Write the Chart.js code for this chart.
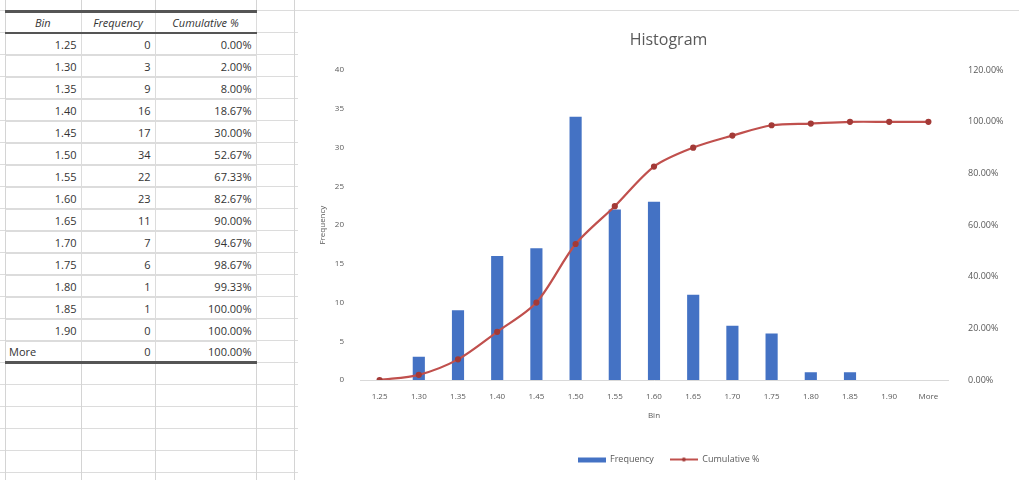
<!DOCTYPE html>
<html lang="en">
<head>
    <meta charset="UTF-8">
    <title>Histogram</title>
    <script src="https://cdn.jsdelivr.net/npm/chart.js"></script>
    <style>
        body { margin: 0; width: 1019px; height: 480px; overflow: hidden; background: #fff;
               font-family: "Open Sans", sans-serif; position: relative; }
        .grid { position: absolute; left: 0; top: 0; width: 1019px; height: 480px;
                background-image:
                    linear-gradient(to bottom, #dcdcdc 1px, transparent 1px);
                background-size: 100% 22px; background-position: 0 10px; }
        .vline { position: absolute; top: 0; height: 480px; width: 1px; background: #d4d4d4; }
        table { position: absolute; left: 5px; top: 10px; border-collapse: collapse;
                font-size: 11px; color: #333; }
        td, th { height: 21px; padding: 0 4px; border-bottom: 1px solid #dcdcdc;
                 border-right: 1px solid #dcdcdc; text-align: right; white-space: nowrap; }
        th { font-weight: normal; font-style: italic; text-align: center;
             border-top: 3px solid #555; border-bottom: 2px solid #555; height: 19px; }
        tr.last td { border-bottom: 3px solid #555; height: 19px; }
        td.l { text-align: left; }
        #wrap { position: absolute; left: 298px; top: 12px; width: 721px; height: 468px; background: #fff; }
    </style>
</head>
<body>
    <div class="grid"></div>
    <div class="vline" style="left:5px"></div>
    <div class="vline" style="left:81px"></div>
    <div class="vline" style="left:155px"></div>
    <div class="vline" style="left:256px"></div>
    <div class="vline" style="left:294px"></div>
    <table id="tbl">
        <colgroup><col style="width:76px"><col style="width:74px"><col style="width:101px"></colgroup>
        <thead><tr><th>Bin</th><th>Frequency</th><th>Cumulative %</th></tr></thead>
        <tbody id="rows"></tbody>
    </table>
    <div id="wrap"><canvas id="histChart" width="721" height="468"></canvas></div>

    <script>
    // values
    const bins = ['1.25', '1.30', '1.35', '1.40', '1.45', '1.50', '1.55', '1.60', '1.65', '1.70', '1.75', '1.80', '1.85', '1.90', 'More'];
    const frequency = [0, 3, 9, 16, 17, 34, 22, 23, 11, 7, 6, 1, 1, 0, 0];
    const cumulative = [0, 0.02, 0.08, 0.1867, 0.30, 0.5267, 0.6733, 0.8267, 0.90, 0.9467, 0.9867, 0.9933, 1, 1, 1];
    const freqTicks = [0, 5, 10, 15, 20, 25, 30, 35, 40];
    const pctTicks = [0, 0.2, 0.4, 0.6, 0.8, 1.0, 1.2];

    const grey = '#595959';
    const blue = '#4472c4';
    const red = '#c0504d';

    // fill the worksheet table
    const tbody = document.getElementById('rows');
    bins.forEach((b, i) => {
        const tr = document.createElement('tr');
        if (i === bins.length - 1) tr.className = 'last';
        tr.innerHTML = '<td class="' + (b === 'More' ? 'l' : '') + '">' + b + '</td><td>' +
            frequency[i] + '</td><td>' + (cumulative[i] * 100).toFixed(2) + '%</td>';
        tbody.appendChild(tr);
    });

    // legend swatches like Excel: flat bar, line with marker
    function swatch(kind) {
        const c = document.createElement('canvas');
        c.width = 28; c.height = 8;
        const g = c.getContext('2d');
        if (kind === 'bar') {
            g.fillStyle = blue; g.fillRect(0, 2, 28, 5);
        } else {
            g.strokeStyle = red; g.lineWidth = 2;
            g.beginPath(); g.moveTo(0, 4); g.lineTo(28, 4); g.stroke();
            g.fillStyle = '#a33a37'; g.beginPath(); g.arc(14, 4, 2, 0, Math.PI * 2); g.fill();
        }
        return c;
    }
    const legendIcons = [swatch('bar'), swatch('line')];

    Chart.defaults.font.family = '"Open Sans", sans-serif';
    Chart.defaults.color = grey;

    new Chart(document.getElementById('histChart'), {
        data: {
            labels: bins,
            datasets: [
                {
                    type: 'line',
                    label: 'Cumulative %',
                    data: cumulative,
                    yAxisID: 'yPct',
                    borderColor: red,
                    borderWidth: 2.2,
                    pointRadius: 2,
                    pointBackgroundColor: '#a33a37',
                    pointBorderColor: '#a33a37',
                    tension: 0.3,
                    order: 0
                },
                {
                    type: 'bar',
                    label: 'Frequency',
                    data: frequency,
                    yAxisID: 'yFreq',
                    backgroundColor: blue,
                    categoryPercentage: 1,
                    barPercentage: 0.31,
                    order: 1
                }
            ]
        },
        options: {
            responsive: false,
            animation: false,
            layout: { padding: { left: 20, right: 0, top: 0, bottom: 6 } },
            plugins: {
                title: {
                    display: true, text: 'Histogram', color: grey,
                    font: { size: 16, weight: 'normal' },
                    padding: { top: 19, bottom: 20 }
                },
                legend: {
                    position: 'bottom',
                    reverse: true,
                    labels: {
                        usePointStyle: true,
                        pointStyleWidth: 28,
                        boxHeight: 8,
                        font: { size: 9 },
                        padding: 16,
                        generateLabels: (chart) => chart.data.datasets.map((ds, i) => ({
                            text: ds.label,
                            pointStyle: legendIcons[i === 0 ? 1 : 0],
                            datasetIndex: i,
                            fontColor: grey,
                            hidden: false
                        }))
                    }
                },
                tooltip: { enabled: false }
            },
            scales: {
                x: {
                    grid: { display: false },
                    border: { color: '#d9d9d9' },
                    ticks: { font: { size: 8 }, maxRotation: 0, autoSkip: false, padding: 4 },
                    title: { display: true, text: 'Bin', font: { size: 8 }, padding: { top: 0, bottom: 18 } },
                    afterFit: (s) => { s.height = 59; }
                },
                yFreq: {
                    position: 'left',
                    min: 0, max: 40,
                    grid: { display: false },
                    border: { display: false },
                    afterBuildTicks: (s) => { s.ticks = freqTicks.map(v => ({ value: v })); },
                    ticks: { font: { size: 8 }, padding: 8 },
                    title: { display: true, text: 'Frequency', font: { size: 8 }, padding: 0 },
                    afterFit: (s) => { s.width = 42; }
                },
                yPct: {
                    position: 'right',
                    min: 0, max: 1.2,
                    grid: { display: false },
                    border: { display: false },
                    afterBuildTicks: (s) => { s.ticks = pctTicks.map(v => ({ value: v })); },
                    ticks: {
                        font: { size: 9 }, padding: 12,
                        callback: (v) => (v * 100).toFixed(2) + '%'
                    },
                    afterFit: (s) => { s.width = 71; }
                }
            }
        }
    });
    </script>
</body>
</html>
